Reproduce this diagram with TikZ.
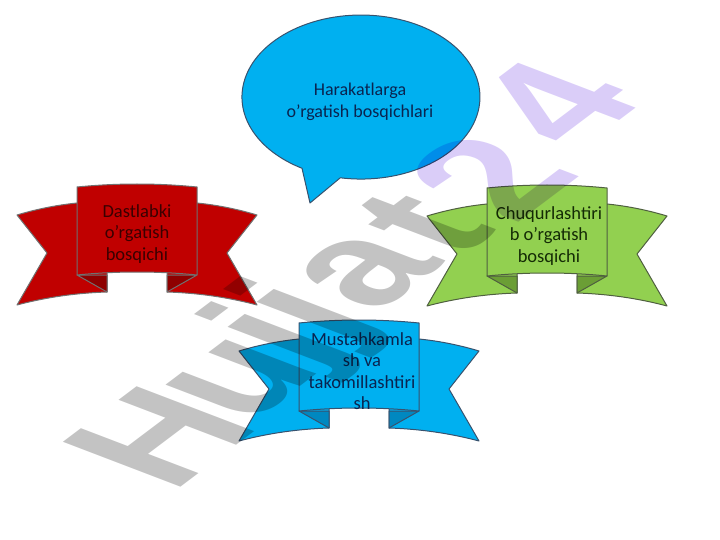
\documentclass[tikz,border=0pt]{standalone}
\usepackage{fontspec}
\setmainfont{Carlito}
\newfontfamily\wmfont{Liberation Sans}
\definecolor{redfill}{HTML}{C00000}
\definecolor{redfold}{HTML}{8E0000}
\definecolor{redline}{HTML}{707070}
\definecolor{redtext}{HTML}{3A0000}
\definecolor{greenfill}{HTML}{92D050}
\definecolor{greenfold}{HTML}{6B9E35}
\definecolor{greenline}{HTML}{4F5F40}
\definecolor{greentext}{HTML}{142B05}
\definecolor{bluefill}{HTML}{00B0F0}
\definecolor{bluefold}{HTML}{0088C0}
\definecolor{blueline}{HTML}{38526E}
\definecolor{bluetext}{HTML}{0A2450}
\definecolor{wmgrey}{HTML}{C3C3C3}
\definecolor{wmpurple}{HTML}{DACDF8}
\newcommand\drawribbon[5]{%
\begin{scope}[shift={(#1,#2)}, draw=#5, line width=1pt, line join=round]
 \filldraw[fill=#3] (-30,15) -- (-60,16) .. controls (-80,18) and (-100,22) .. (-120,28) -- (-90,66) -- (-120,118) .. controls (-90,110) and (-60,106) .. (-30,105) -- cycle;
 \filldraw[fill=#3] (30,15) -- (60,16) .. controls (80,18) and (100,22) .. (120,28) -- (90,66) -- (120,118) .. controls (90,110) and (60,106) .. (30,105) -- cycle;
 \filldraw[fill=#4] (-60,88) -- (-30,88) -- (-30,105) -- cycle;
 \filldraw[fill=#4] (60,88) -- (30,88) -- (30,105) -- cycle;
 \filldraw[fill=#3] (-60,0) .. controls (-20,-4) and (20,-4) .. (60,0) -- (60,88) .. controls (20,84) and (-20,84) .. (-60,88) -- cycle;
\end{scope}}
\tikzset{
 label text/.style={align=center, inner sep=0pt, font=\fontsize{18.5}{21.5}\selectfont},
 wm/.style={cm={1.254,0.945,-1.709,0.653,(0,0)}, transform shape, anchor=base west, inner sep=0pt,
   font=\wmfont\bfseries\fontsize{100}{100}\selectfont}
}
% one watermark letter: x, y (baseline start), colour, letter, node name
\newcommand\wml[5]{\begin{scope}[shift={(#1,#2)}]\node[wm, text=#3] (#5) at (0,0) {#4};\end{scope}}
\begin{document}
\begin{tikzpicture}[x=1pt,y=-1pt]
\useasboundingbox (0,0) rectangle (720,540);
% speech bubble
\filldraw[fill=bluefill, draw=blueline, line width=1pt, line join=round]
  (340.3,177.8) arc[start angle=100, end angle=-240.3, x radius=119, y radius=82]
  -- (310,203) -- cycle;
\node[label text, text=bluetext, font=\fontsize{18}{22}\selectfont] (title) at (360,102) {Harakatlarga\\o'rgatish bosqichlari};
% ribbons
\drawribbon{137}{187}{redfill}{redfold}{redline}
\drawribbon{547}{188}{greenfill}{greenfold}{greenline}
\drawribbon{359}{323}{bluefill}{bluefold}{blueline}
\node[label text, text=redtext] (first) at (137,234) {Dastlabki\\o'rgatish\\bosqichi};
\node[label text, text=greentext] (deep) at (549,236) {Chuqurlashtiri\\b o'rgatish\\bosqichi};
\node[label text, text=bluetext] (fix) at (362,371) {Mustahkamla\\sh va\\takomillashtiri\\sh};
% watermark
\begin{scope}[blend mode=multiply]
\wml{172}{494}{wmgrey}{H}{wmH}
\wml{248}{426}{wmgrey}{u}{wmu}
\wml{309}{369}{wmgrey}{j}{wmj}
\wml{338}{344}{wmgrey}{j}{wmjj}
\wml{376}{315}{wmgrey}{a}{wma}
\wml{457}{261}{wmgrey}{t}{wmt}
\wml{514}{226}{wmpurple}{2}{wmtwo}
\wml{578}{152}{wmpurple}{4}{wmfour}
\end{scope}
\end{tikzpicture}
\end{document}
